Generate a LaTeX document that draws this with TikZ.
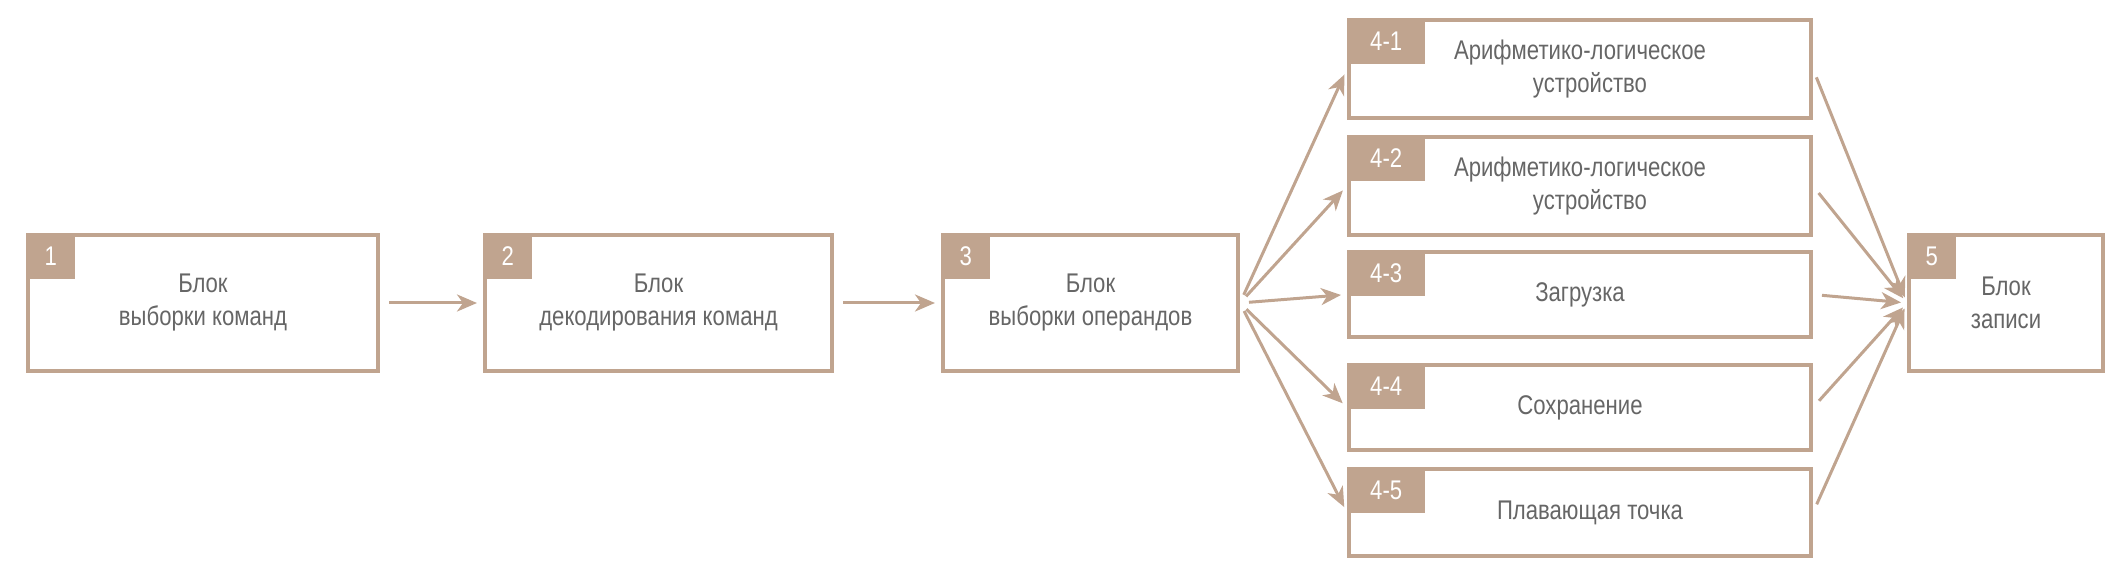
\documentclass[tikz,border=0pt]{standalone}
\usepackage{fontspec}
\setmainfont[FakeStretch=0.82]{Liberation Sans}
\usetikzlibrary{arrows.meta}
\definecolor{tan}{HTML}{C0A48F}
\definecolor{txt}{HTML}{666666}
\begin{document}
\begin{tikzpicture}[x=1pt,y=1pt,
  box/.style={draw=tan,line width=4pt,minimum width=#1,inner sep=0pt,text=txt,align=center,font=\fontsize{27}{33}\selectfont},
  tag/.style={fill=tan,text=white,inner sep=0pt,font=\fontsize{27}{33}\selectfont},
  arr/.style={draw=tan,line width=3pt,-{Stealth[length=20pt,width=17pt,inset=6pt]},shorten <=9pt,shorten >=6pt}]
\useasboundingbox (0,0) rectangle (2118,570);
\newcommand{\bx}[8]{% name, x1, ytop, x2, ybot, tagw, tag, text
  \node[box=#4-#2, minimum height=#5-#3] (#1) at ({(#2+#4)/2},{570-(#3+#5)/2}) {#8};
  \node[tag,minimum width=#6,minimum height=46,anchor=north west] (#1t) at (#2-2,572-#3) {#7};}
\bx{b1}{28}{235}{378}{371}{49}{1}{Блок\\выборки команд}
\bx{b2}{485}{235}{832}{371}{49}{2}{Блок\\декодирования команд}
\bx{b3}{943}{235}{1238}{371}{49}{3}{Блок\\выборки операндов}
\bx{b41}{1349}{20}{1811}{118}{78}{4-1}{Арифметико-логическое\\\hspace*{20pt}устройство}
\bx{b42}{1349}{137}{1811}{235}{78}{4-2}{Арифметико-логическое\\\hspace*{20pt}устройство}
\bx{b43}{1349}{252}{1811}{337}{78}{4-3}{Загрузка}
\bx{b44}{1349}{365}{1811}{450}{78}{4-4}{Сохранение}
\bx{b45}{1349}{469}{1811}{556}{78}{4-5}{\hspace*{20pt}Плавающая точка}
\bx{b5}{1909}{235}{2103}{371}{49}{5}{Блок\\записи}
\draw[arr] (b1) -- (b2);
\draw[arr] (b2) -- (b3);
\foreach \n in {b41,b42,b43,b44,b45}{
  \draw[arr] (b3.east) -- (\n.west);
  \draw[arr] (\n.east) -- (b5.west);}
\end{tikzpicture}
\end{document}
